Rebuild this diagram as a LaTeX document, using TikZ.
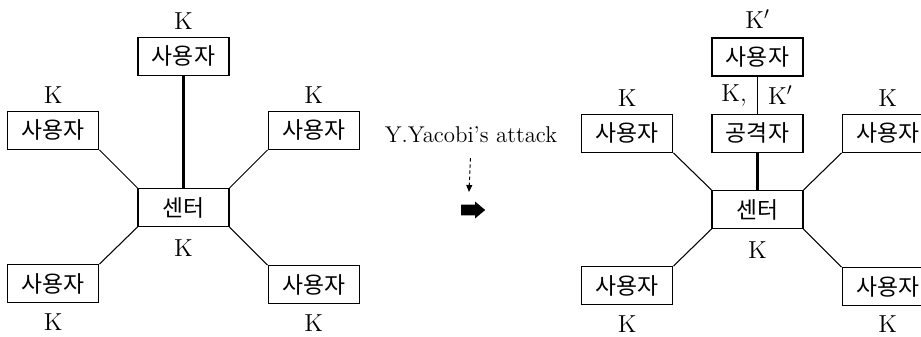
\documentclass[tikz,border=0pt]{standalone}
\usepackage{fontspec}
\newfontfamily\kr{Noto Sans CJK KR}
\usetikzlibrary{arrows.meta,positioning,shapes.arrows,calc}

\begin{document}
\begin{tikzpicture}[
        x=0.02cm, y=-0.02cm,
        box/.style={rectangle, draw, line width=0.7pt, minimum width=1.82cm,
                    minimum height=0.76cm, inner sep=0pt, font=\kr\fontsize{13}{15}\selectfont},
        key/.style={font=\fontsize{14}{16}\selectfont, inner sep=1pt},
        link/.style={draw, line width=0.6pt},
        trunk/.style={draw, line width=1.3pt},
        dashline/.style={draw, line width=0.5pt, dash pattern=on 2pt off 1.5pt,
                         -{Triangle[length=0.14cm, width=0.12cm]}}
    ]
    \useasboundingbox (0,0) rectangle (921,336);

    % before the attack
    \node [box] (center) at (183.5,207.5) {센터};
    \node [box, above=2.24cm of center] (user1) {사용자};
    \node [box, above left=0.76cm and 0.76cm of center] (user2) {사용자};
    \node [box, above right=0.76cm and 0.76cm of center] (user3) {사용자};
    \node [box, below left=0.74cm and 0.76cm of center] (user4) {사용자};
    \node [box, below right=0.76cm and 0.76cm of center] (user5) {사용자};

    \node [key] (k1) at ([yshift=0.32cm]user1.north) {K};
    \node [key] (k2) at ([yshift=0.32cm]user2.north) {K};
    \node [key] (k3) at ([yshift=0.32cm]user3.north) {K};
    \node [key] (k4) at ([yshift=-0.37cm]user4.south) {K};
    \node [key] (k5) at ([yshift=-0.37cm]user5.south) {K};
    \node [key] (k0) at ([yshift=-0.42cm]center.south) {K};

    \draw [trunk] (user1) -- (center);
    \draw [link] (user2.south east) -- (center.north west);
    \draw [link] (user3.south west) -- (center.north east);
    \draw [link] (user4.north east) -- (center.south west);
    \draw [link] (user5.north west) -- (center.south east);

    % the attack
    \node [inner sep=1pt, font=\fontsize{13}{15}\selectfont] (attack) at (471,135) {Y.Yacobi's attack};
    \node [single arrow, fill, inner xsep=0pt, inner ysep=0.1cm, minimum height=0.48cm,
           single arrow head extend=0.06cm, single arrow tip angle=80] (go) at (470,210) {};
    \coordinate (gotop) at (469,192);
    \draw [dashline, shorten <=0.26cm] (attack.south) -- (gotop);

    % after the attack
    \node [box] (center2) at (757.5,209.5) {센터};
    \node [box, above=0.74cm of center2] (attacker) {공격자};
    \node [box, above=0.74cm of attacker] (user6) {사용자};
    \node [box, above left=0.74cm and 0.76cm of center2] (user7) {사용자};
    \node [box, above right=0.74cm and 0.76cm of center2] (user8) {사용자};
    \node [box, below left=0.74cm and 0.76cm of center2] (user9) {사용자};
    \node [box, below right=0.76cm and 0.76cm of center2] (user10) {사용자};

    \node [key] (k6) at ([yshift=0.36cm]user6.north) {K$'$};
    \node [key] (k7) at ([yshift=0.32cm]user7.north) {K};
    \node [key] (k8) at ([yshift=0.32cm]user8.north) {K};
    \node [key] (k9) at ([yshift=-0.37cm]user9.south) {K};
    \node [key] (k10) at ([yshift=-0.35cm]user10.south) {K};
    \node [key] (k11) at ([yshift=-0.42cm]center2.south) {K};

    \coordinate (mid) at ($(user6.south)!0.5!(attacker.north)$);
    \node [key, anchor=east] (kold) at ([xshift=-0.17cm]mid) {K,};
    \node [key, anchor=west] (knew) at ([xshift=0.17cm]mid) {K$'$};

    \draw [link, line width=0.8pt] (user6) -- (attacker);
    \draw [trunk] (attacker) -- (center2);
    \draw [link] (user7.south east) -- (center2.north west);
    \draw [link] (user8.south west) -- (center2.north east);
    \draw [link] (user9.north east) -- (center2.south west);
    \draw [link] (user10.north west) -- (center2.south east);
\end{tikzpicture}
\end{document}
